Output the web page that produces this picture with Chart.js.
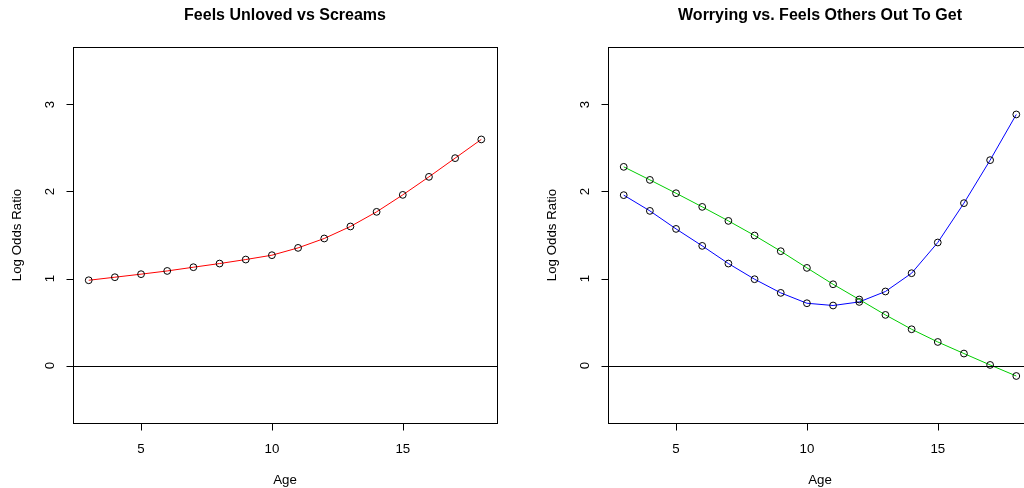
<!DOCTYPE html>
<html>
<head>
<meta charset="utf-8">
<script src="https://cdn.jsdelivr.net/npm/chart.js@4"></script>
<style>
  html, body { margin: 0; padding: 0; background: #fff; overflow: hidden; width: 1024px; height: 488px; }
  canvas { position: absolute; top: 0; }
  #left { left: 0; }
  #right { left: 535px; }
</style>
</head>
<body>
<canvas id="left" width="512" height="488"></canvas>
<canvas id="right" width="512" height="488"></canvas>
<script>
const ages = [3, 4, 5, 6, 7, 8, 9, 10, 11, 12, 13, 14, 15, 16, 17, 18];
const unlovedScreams = [0.98, 1.015, 1.05, 1.087, 1.13, 1.172, 1.218, 1.268, 1.352, 1.46, 1.598, 1.766, 1.961, 2.168, 2.383, 2.598];
const worryGreen = [2.283, 2.133, 1.98, 1.823, 1.662, 1.494, 1.314, 1.122, 0.934, 0.759, 0.582, 0.417, 0.271, 0.138, 0.007, -0.12];
const worryBlue = [1.958, 1.777, 1.57, 1.375, 1.172, 0.992, 0.835, 0.716, 0.69, 0.731, 0.851, 1.061, 1.414, 1.866, 2.36, 2.885];
const xTicks = [5, 10, 15];
const yTicks = [0, 1, 2, 3];
const xRange = [2.4, 18.6];
const yRange = [-0.66, 3.66];

const FONT = "'Liberation Sans', Arial, Helvetica, sans-serif";
Chart.defaults.font.family = FONT;
Chart.defaults.color = '#000';

function pts(ys) {
  return ages.map((a, i) => ({ x: a, y: ys[i] }));
}

function series(ys, colour) {
  return {
    data: pts(ys),
    borderColor: colour,
    borderWidth: 1,
    pointStyle: 'circle',
    pointRadius: 3.4,
    pointBorderColor: '#000',
    pointBackgroundColor: 'rgba(0,0,0,0)',
    pointBorderWidth: 1,
    tension: 0,
    clip: false
  };
}

// box, partial axis lines with outward ticks, rotated y labels, zero line
const baseAxes = {
  id: 'baseAxes',
  afterDatasetsDraw(chart) {
    const { ctx, chartArea: a, scales: { x, y } } = chart;
    const snap = v => Math.round(v) + 0.5;
    ctx.save();
    ctx.strokeStyle = '#000';
    ctx.lineWidth = 1;

    const y0 = snap(y.getPixelForValue(0));
    ctx.beginPath();
    ctx.moveTo(a.left, y0);
    ctx.lineTo(a.right, y0);
    ctx.stroke();

    const l = snap(a.left), t = snap(a.top), r = snap(a.right), b = snap(a.bottom);
    ctx.strokeRect(l, t, r - l, b - t);

    // x axis
    ctx.beginPath();
    ctx.moveTo(snap(x.getPixelForValue(xTicks[0])), b);
    ctx.lineTo(snap(x.getPixelForValue(xTicks[xTicks.length - 1])), b);
    xTicks.forEach(v => {
      const px = snap(x.getPixelForValue(v));
      ctx.moveTo(px, b);
      ctx.lineTo(px, b + 7);
    });
    // y axis
    ctx.moveTo(l, snap(y.getPixelForValue(yTicks[0])));
    ctx.lineTo(l, snap(y.getPixelForValue(yTicks[yTicks.length - 1])));
    yTicks.forEach(v => {
      const py = snap(y.getPixelForValue(v));
      ctx.moveTo(l, py);
      ctx.lineTo(l - 7, py);
    });
    ctx.stroke();

    ctx.fillStyle = '#000';
    ctx.font = '13.3px ' + FONT;
    ctx.textAlign = 'center';
    ctx.textBaseline = 'middle';
    yTicks.forEach(v => {
      ctx.save();
      ctx.translate(a.left - 23, y.getPixelForValue(v));
      ctx.rotate(-Math.PI / 2);
      ctx.fillText(String(v), 0, 0);
      ctx.restore();
    });
    ctx.restore();
  }
};

function panel(id, title, datasets) {
  return new Chart(document.getElementById(id), {
    type: 'line',
    data: { datasets },
    plugins: [baseAxes],
    options: {
      responsive: false,
      animation: false,
      devicePixelRatio: 1,
      layout: { padding: { left: 0, right: 15, top: 0, bottom: 0 } },
      plugins: {
        legend: { display: false },
        tooltip: { enabled: false },
        title: {
          display: true,
          fullSize: false,
          text: title,
          color: '#000',
          font: { size: 16, weight: 'bold', family: FONT },
          padding: { top: 6, bottom: 21.8 }
        }
      },
      scales: {
        x: {
          type: 'linear',
          min: xRange[0],
          max: xRange[1],
          grid: { display: false },
          border: { display: false },
          afterBuildTicks: s => { s.ticks = xTicks.map(v => ({ value: v })); },
          afterFit: s => { s.height = 65; },
          ticks: {
            autoSkip: false,
            maxRotation: 0,
            padding: 10,
            font: { size: 13.3 },
            color: '#000'
          },
          title: {
            display: true,
            text: 'Age',
            color: '#000',
            font: { size: 13.3 },
            padding: { top: 0, bottom: 0 }
          }
        },
        y: {
          type: 'linear',
          min: yRange[0],
          max: yRange[1],
          grid: { display: false },
          border: { display: false },
          ticks: { display: false },
          afterFit: s => { s.width = 73; },
          title: {
            display: true,
            text: 'Log Odds Ratio',
            color: '#000',
            font: { size: 13.3 },
            padding: { top: 9.5, bottom: 0 }
          }
        }
      }
    }
  });
}

panel('left', 'Feels Unloved vs Screams', [series(unlovedScreams, '#ff0000')]);
panel('right', 'Worrying vs. Feels Others Out To Get', [
  series(worryGreen, '#00cd00'),
  series(worryBlue, '#0000ff')
]);
</script>
</body>
</html>
